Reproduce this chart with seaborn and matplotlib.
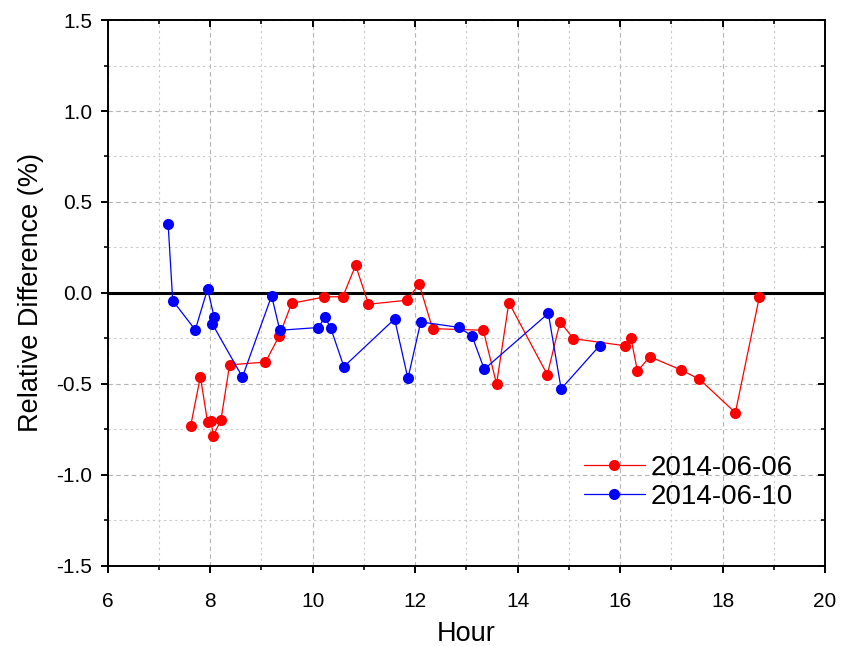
import matplotlib
matplotlib.use("Agg")
import matplotlib.pyplot as plt
from matplotlib.ticker import MultipleLocator, FormatStrFormatter
from matplotlib import lines as mlines
import pandas as pd
import seaborn as sns

# Serie 2014-06-06 (rojo)
horas_0606 = [7.62, 7.81, 7.95, 8.02, 8.06, 8.21, 8.38, 9.08, 9.35, 9.59,
              10.23, 10.59, 10.84, 11.09, 11.84, 12.08, 12.34, 13.33, 13.59, 13.83,
              14.58, 14.83, 15.09, 16.09, 16.21, 16.34, 16.58, 17.19, 17.55, 18.25,
              18.72]
dif_0606 = [-0.73, -0.46, -0.71, -0.705, -0.785, -0.70, -0.395, -0.38, -0.235, -0.057,
            -0.022, -0.02, 0.152, -0.062, -0.04, 0.049, -0.196, -0.205, -0.50, -0.053,
            -0.449, -0.159, -0.251, -0.29, -0.245, -0.43, -0.35, -0.423, -0.474, -0.658,
            -0.02]

# Serie 2014-06-10 (azul)
horas_0610 = [7.18, 7.27, 7.71, 7.95, 8.08, 8.04, 8.63, 9.20, 9.36, 10.11,
              10.24, 10.35, 10.61, 11.60, 11.86, 12.11, 12.85, 13.11, 13.35, 14.60,
              14.85, 15.60]
dif_0610 = [0.379, -0.042, -0.203, 0.022, -0.134, -0.169, -0.462, -0.016, -0.205, -0.19,
            -0.134, -0.19, -0.405, -0.143, -0.47, -0.159, -0.189, -0.236, -0.419, -0.112,
            -0.527, -0.29]

etiquetas = ["2014-06-06", "2014-06-10"]
colores = ["#ff0000", "#0000ff"]

df = pd.concat([
    pd.DataFrame({"Hour": horas_0606, "Diff": dif_0606, "Fecha": etiquetas[0]}),
    pd.DataFrame({"Hour": horas_0610, "Diff": dif_0610, "Fecha": etiquetas[1]}),
], ignore_index=True)

sns.set_style("white")
plt.rcParams["font.family"] = ["Liberation Sans", "DejaVu Sans"]
plt.rcParams["text.color"] = "black"
plt.rcParams["axes.labelcolor"] = "black"
plt.rcParams["xtick.color"] = "black"
plt.rcParams["ytick.color"] = "black"

fig = plt.figure(figsize=(8.41, 6.46), dpi=100)
ax = fig.add_axes([0.128, 0.124, 0.853, 0.845])

sns.lineplot(data=df, x="Hour", y="Diff", hue="Fecha", hue_order=etiquetas,
             palette=colores, marker="o", markersize=8, markeredgewidth=0,
             linewidth=0.9, sort=False, estimator=None, ax=ax)

ax.axhline(0, color="black", linewidth=2.2, zorder=1)

ax.set_xlim(6, 20)
ax.set_ylim(-1.5, 1.5)
ax.xaxis.set_major_locator(MultipleLocator(2))
ax.xaxis.set_minor_locator(MultipleLocator(1))
ax.yaxis.set_major_locator(MultipleLocator(0.5))
ax.yaxis.set_minor_locator(MultipleLocator(0.25))
ax.yaxis.set_major_formatter(FormatStrFormatter("%.1f"))

ax.grid(which="major", color="#b4b4b4", linestyle=(0, (4, 3)), linewidth=0.8)
ax.grid(which="minor", color="#c8c8c8", linestyle=(0, (2, 3)), linewidth=0.8)
ax.set_axisbelow(True)

for s in ax.spines.values():
    s.set_linewidth(1.4)
    s.set_color("black")

ax.tick_params(which="major", direction="out", length=5, width=1.4,
               labelsize=15, bottom=True, left=True)
ax.tick_params(which="minor", direction="out", length=3, width=1.2,
               bottom=True, left=True)
ax.tick_params(which="both", top=True, right=True)
ax.tick_params(axis="y", which="major", pad=6)
ax.tick_params(axis="x", which="major", pad=14)
# ticks interiores arriba y a la derecha
for t in ax.xaxis.get_major_ticks() + ax.xaxis.get_minor_ticks():
    t.tick2line.set_marker(mlines.TICKDOWN)
for t in ax.yaxis.get_major_ticks() + ax.yaxis.get_minor_ticks():
    t.tick2line.set_marker(mlines.TICKLEFT)

ax.set_xlabel("Hour", fontsize=19.5, labelpad=7)
ax.set_ylabel("Relative Difference (%)", fontsize=19.5, labelpad=9)

ax.legend(frameon=False, fontsize=20, loc="lower right",
          bbox_to_anchor=(0.99, 0.057), handlelength=2.2, handletextpad=0.2,
          labelspacing=0.1, title=None)

fig.savefig("out.png", dpi=100)
